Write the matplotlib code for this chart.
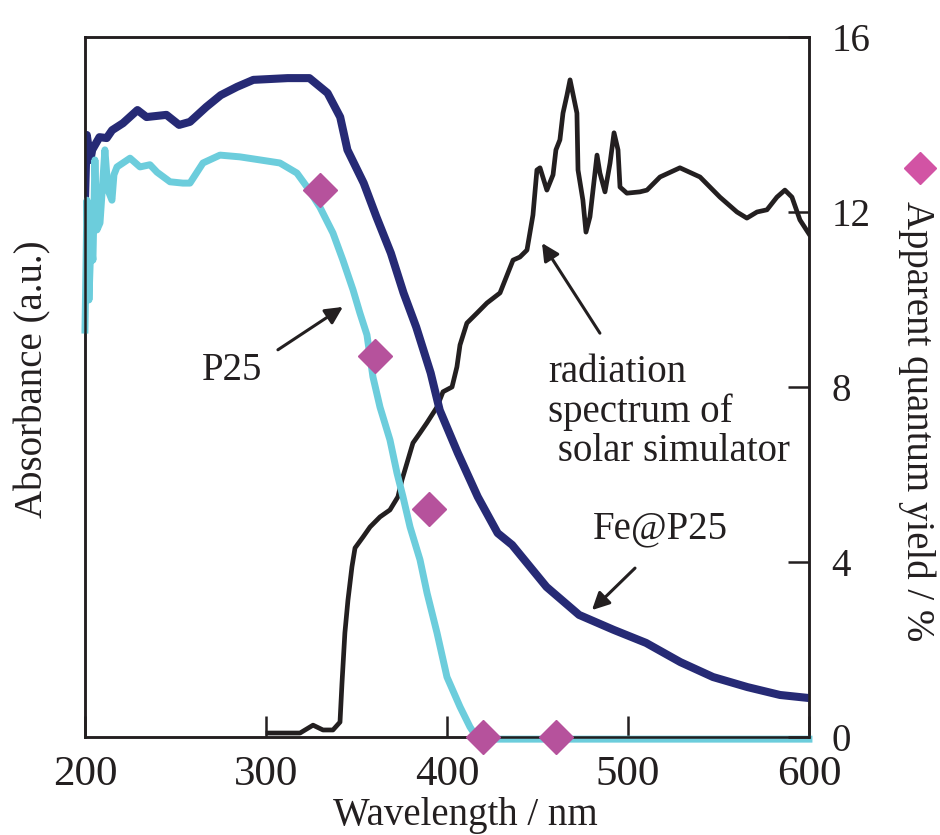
import matplotlib.pyplot as plt
from matplotlib.lines import Line2D

plt.rcParams['font.family'] = ['Liberation Serif', 'DejaVu Serif']

# Fe@P25 absorbance (a.u., drawn on a 0-16 scale)
fe_wl = [200, 201, 203, 204, 208, 212, 215, 221, 229, 234, 245, 252, 258, 267, 275, 284,
         293, 312, 324, 334, 341, 345, 354, 361, 369, 376, 383, 391, 396, 406, 417, 428,
         436, 455, 473, 492, 510, 529, 547, 566, 584, 600]
fe_abs = [12.27, 13.76, 13.19, 13.42, 13.71, 13.69, 13.87, 14.03, 14.33, 14.17, 14.22, 13.99,
          14.06, 14.40, 14.67, 14.86, 15.02, 15.06, 15.06, 14.72, 14.17, 13.42, 12.66, 11.89,
          11.06, 10.15, 9.37, 8.32, 7.47, 6.49, 5.49, 4.66, 4.39, 3.43, 2.79, 2.45, 2.15, 1.71,
          1.37, 1.14, 0.96, 0.89]

# P25 absorbance (a.u.)
p25_wl = [200, 200.6, 201.1, 202.2, 203.3, 204.4, 205.5, 206.6, 208.3, 209.9, 211.0, 212.7,
          214.9, 216.0, 217.7, 224.9, 230.4, 235.9, 239.8, 247.0, 254.1, 258.0, 265.2, 274.6,
          285.6, 296.7, 307.7, 317.1, 322.7, 329.8, 337.0, 342.5, 348.1, 351.9, 355.8, 359.1,
          363.0, 368.5, 372.4, 375.7, 379.6, 385.1, 389.0, 394.5, 400.0, 407.2, 412.7, 417.1,
          500, 600]
p25_abs = [9.30, 10.90, 12.27, 9.99, 11.36, 10.90, 13.19, 11.59, 11.75, 12.73, 13.42, 12.50,
           12.27, 12.85, 13.03, 13.23, 13.03, 13.08, 12.91, 12.69, 12.66, 12.66, 13.12, 13.30,
           13.26, 13.19, 13.12, 12.89, 12.57, 12.11, 11.52, 10.90, 10.22, 9.69, 9.19, 8.23,
           7.54, 6.79, 6.03, 5.49, 4.80, 4.05, 3.29, 2.38, 1.37, 0.69, 0.23, -0.05,
           -0.05, -0.05]

# radiation spectrum of the solar simulator (a.u.)
sun_wl = [301.1, 318.8, 326.0, 331.5, 337.0, 340.9, 342.0, 343.6, 345.3, 347.5, 349.2, 353.6,
          357.5, 363.0, 368.5, 372.9, 375.1, 377.9, 381.2, 385.1, 388.9, 394.5, 397.8, 402.8,
          405.5, 407.2, 411.0, 416.6, 422.1, 429.3, 436.5, 440.3, 444.2, 447.5, 449.7, 451.4,
          455.2, 458.6, 460.2, 462.4, 464.1, 466.3, 468.0, 471.8, 472.4, 475.1, 476.8, 479.0,
          482.9, 484.5, 487.3, 490.1, 492.3, 494.5, 495.6, 499.4, 506.6, 510.5, 517.7, 528.7,
          539.8, 550.8, 560.2, 565.7, 571.3, 576.8, 582.3, 586.7, 590.6, 595.0, 600]
sun_int = [0.09, 0.09, 0.27, 0.16, 0.16, 0.34, 1.23, 2.38, 3.13, 3.89, 4.32, 4.57,
           4.80, 5.03, 5.19, 5.49, 5.87, 6.26, 6.72, 6.95, 7.18, 7.54, 7.89, 8.00,
           8.46, 8.96, 9.46, 9.69, 9.92, 10.15, 10.90, 10.97, 11.13, 11.93, 12.96, 13.01,
           12.50, 12.85, 13.42, 13.65, 14.26, 14.67, 15.02, 14.26, 12.96, 12.27, 11.54, 11.89,
           13.30, 12.89, 12.46, 13.12, 13.81, 13.42, 12.57, 12.43, 12.46, 12.50, 12.80, 13.01,
           12.80, 12.34, 12.00, 11.86, 12.00, 12.05, 12.34, 12.50, 12.34, 11.82, 11.50]

# apparent quantum yield / %
aqy_wl = [330, 360, 390, 420, 460]
aqy = [12.5, 8.7, 5.2, 0, 0]

ink = '#231f20'
navy = '#262a75'
cyan = '#6ccddc'
magenta = '#b6529c'

fig = plt.figure(figsize=(9.4, 8.35), dpi=100)
ax = fig.add_axes([0.0904, 0.1174, 0.7702, 0.8383])

ax.plot(sun_wl, sun_int, color=ink, lw=3.4, zorder=2)
ax.plot(fe_wl, fe_abs, color=navy, lw=5.8, zorder=3)
ax.plot(p25_wl, p25_abs, color=cyan, lw=5.0, zorder=4, clip_on=False)

ax.set_xlim(200, 600)
ax.set_ylim(0, 16)
ax.set_xticks([200, 300, 400, 500, 600])
ax.set_yticks([])
ax.tick_params(axis='x', direction='in', length=15, width=1.8, labelsize=31,
               pad=13, colors=ink)
for s in ax.spines.values():
    s.set_linewidth(1.8)
    s.set_color(ink)

ax.set_xlabel('Wavelength / nm', fontsize=28, color=ink)
ax.xaxis.set_label_coords(0.525, -0.086)
ax.set_ylabel('Absorbance (a.u.)', fontsize=28, color=ink)
ax.yaxis.set_label_coords(-0.046, 0.511)

# annotations
arrow = dict(arrowstyle='-|>', mutation_scale=26, lw=2.2, color=ink, shrinkA=0, shrinkB=0)
ax.text(281.2, 8.37, 'P25', fontsize=28, ha='center', va='center', color=ink)
ax.annotate('', xy=(342.5, 9.83), xytext=(306.6, 8.85), arrowprops=arrow)
ax.text(455.8, 8.75, 'radiation\nspectrum of\n solar simulator', fontsize=28,
        ha='left', va='top', linespacing=1.08, color=ink)
ax.annotate('', xy=(452.5, 11.29), xytext=(484.5, 9.23), arrowprops=arrow)
ax.text(517.7, 4.75, 'Fe@P25', fontsize=28, ha='center', va='center', color=ink)
ax.annotate('', xy=(480.1, 2.90), xytext=(503.9, 3.86), arrowprops=arrow)

ax2 = ax.twinx()
ax2.plot(aqy_wl, aqy, linestyle='none', marker='D', ms=17.5, color=magenta,
         clip_on=False, zorder=5)
ax2.set_ylim(0, 16)
ax2.set_yticks([0, 4, 8, 12, 16])
ax2.tick_params(axis='y', direction='in', length=15, width=1.8, labelsize=28,
                pad=16, colors=ink)
for s in ax2.spines.values():
    s.set_linewidth(1.8)
    s.set_color(ink)

fig.text(917 / 940, 1 - 421 / 835, 'Apparent quantum yield / %', fontsize=28,
         rotation=-90, ha='center', va='center', color=ink)
fig.add_artist(Line2D([920 / 940], [1 - 168 / 835], marker='D', ms=16.5,
                      color='#d253a4', linestyle='none', transform=fig.transFigure))

fig.savefig('out.png', dpi=100)
